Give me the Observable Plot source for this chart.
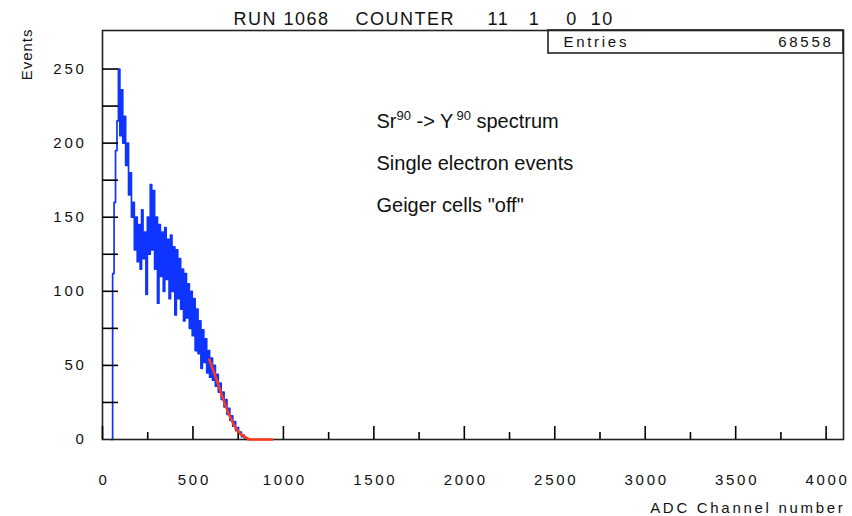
<!DOCTYPE html>
<html><head><meta charset="utf-8">
<script src="https://cdn.jsdelivr.net/npm/d3@7"></script>
<script src="https://cdn.jsdelivr.net/npm/@observablehq/plot@0.6"></script>
<style>
body{margin:0;background:#fff}
svg{display:block}
</style>
</head><body><div id="chart"></div>
<script>
// ---- data ----
const title = "RUN 1068    COUNTER     11   1    0  10";
const yLabel = "Events";
const xLabel = "ADC Channel number";
const statsName = "Entries";
const statsValue = "68558";
const notes = ["Sr90 -> Y90 spectrum", "Single electron events", "Geiger cells \"off\""];

// histogram: bins of 8 ADC channels starting at channel 48
const binStart = 48;
const binWidth = 8;
const counts = [0,
  112,160,195,215,250,205,236,200,218,185,
  200,165,180,150,160,128,150,120,145,115,
  155,122,140,98,150,125,172,128,168,115,
  150,92,145,110,140,100,143,108,135,95,
  138,100,130,84,128,95,122,88,115,80,
  112,82,105,75,100,70,95,60,88,58,
  80,48,74,52,68,45,60,42,55,40,
  50,36,44,32,38,27,32,22,27,17,
  21,13,16,9,12,6,8,4,5,2,
  3,1,1,0];

// fitted end-point curve
const fitChannel = [590, 620, 651, 680, 706, 735, 761, 790, 816, 938];
const fitValue   = [54,  44,  33,  23,  15,  8,   4,   1.5, 0,   0];

const xTickMajor = [0, 500, 1000, 1500, 2000, 2500, 3000, 3500, 4000];
const xTickMinor = [250, 750, 1250, 1750, 2250, 2750, 3250, 3750];
const yTicks = [25, 50, 75, 100, 125, 150, 175, 200, 225, 250];
const yTickLabels = [0, 50, 100, 150, 200, 250];

// ---- build tables ----
const hist = counts.map((c, i) => ({channel: binStart + i * binWidth, count: c}));
hist.push({channel: binStart + counts.length * binWidth, count: 0});
const fit = fitChannel.map((c, i) => ({channel: c, value: fitValue[i]}));

const FONT = "'Liberation Sans', Arial, Helvetica, sans-serif";
const INK = "#111";
const W = 852, H = 516, ML = 102, MR = 9, MT = 30, MB = 77;
const xMax = 4096;
// inward y tick length of 16px expressed in x units
const yTickLen = 16 / (W - ML - MR) * xMax;

const plot = Plot.plot({
  width: W, height: H,
  marginLeft: ML, marginRight: MR, marginTop: MT, marginBottom: MB,
  x: {domain: [0, xMax]},
  y: {domain: [0, 276]},
  style: {fontFamily: FONT, fontSize: "15px", color: INK, background: "#fff", whiteSpace: "pre", letterSpacing: "2.7px"},
  marks: [
    Plot.line(hist, {x: "channel", y: "count", curve: "step-after", stroke: "#1034ff", strokeWidth: 1.7}),
    Plot.frame({stroke: "#222", strokeWidth: 1.6}),
    Plot.ruleX(xTickMajor, {x: d => d, y1: 0, y2: 0, insetTop: -13, stroke: "#000", strokeWidth: 1.6}),
    Plot.ruleX(xTickMinor, {x: d => d, y1: 0, y2: 0, insetTop: -7, stroke: "#000", strokeWidth: 1.6}),
    Plot.ruleY(yTicks, {y: d => d, x1: 0, x2: yTickLen, stroke: "#000", strokeWidth: 1.6}),
    Plot.line(fit, {x: "channel", y: "value", curve: "monotone-x", stroke: "#ff3a1a", strokeWidth: 2.6}),
    Plot.axisX({ticks: xTickMajor, tickFormat: d3.format("d"), tickSize: 0, tickPadding: 35, label: null, dx: 1.4, fontSize: 15}),
    Plot.axisY({ticks: yTickLabels, tickFormat: d3.format("d"), tickSize: 0, tickPadding: 16, label: null, fontSize: 15}),
    Plot.text([title], {frameAnchor: "top-left", dx: 131, dy: -6, lineAnchor: "bottom", textAnchor: "start", fontSize: 18, fill: INK}),
    Plot.text([yLabel], {frameAnchor: "top-left", rotate: -90, textAnchor: "end", lineAnchor: "bottom", dx: -71, dy: -2, fontSize: 15, fill: INK}),
    Plot.text([xLabel], {frameAnchor: "bottom-right", textAnchor: "end", lineAnchor: "bottom", dx: 2, dy: 73, fontSize: 15, fill: INK}),
    Plot.text([statsName], {frameAnchor: "top-left", textAnchor: "start", lineAnchor: "bottom", dx: 461, dy: 16, fontSize: 15, fill: INK}),
    Plot.text([statsValue], {frameAnchor: "top-right", textAnchor: "end", lineAnchor: "bottom", dx: -10, dy: 16, fontSize: 15, fill: INK}),
    Plot.text([notes.join("\n")], {frameAnchor: "top-left", textAnchor: "start", lineAnchor: "top", lineHeight: 2.1, dx: 274, dy: 68, fontSize: 20, fill: INK})
  ]
});

document.getElementById("chart").appendChild(plot);
const svg = d3.select(plot);

// letter spacing: title moderate, notes normal, y label tighter
svg.selectAll("text").each(function() {
  const t = this.textContent;
  if (t === title) d3.select(this).style("letter-spacing", "1.5px");
  if (t === yLabel) d3.select(this).style("letter-spacing", "1px");
  if (t.startsWith(notes[0].slice(0, 4))) d3.select(this).style("letter-spacing", "0px");
});

// superscript mass numbers in the first note line
svg.selectAll("tspan").filter(function() { return this.textContent === notes[0]; }).each(function() {
  const line = d3.select(this);
  const parts = notes[0].split(/(\d+)/).filter(p => p.length);
  line.text(null);
  let shift = 0, supCount = 0;
  parts.forEach(p => {
    const sup = /^\d+$/.test(p);
    const target = sup ? -8 : 0;
    const ts = line.append("tspan").text(p);
    if (target !== shift) ts.attr("dy", target - shift);
    shift = target;
    if (sup) {
      ts.style("font-size", "13px");
      if (supCount++ > 0) ts.attr("dx", 3);
    }
  });
});

// statistics box over the frame's top-right corner
svg.append("rect")
  .attr("x", 548).attr("y", MT).attr("width", W - MR - 548).attr("height", 23)
  .attr("fill", "none").attr("stroke", "#222").attr("stroke-width", 1.6);
</script>
</body></html>
